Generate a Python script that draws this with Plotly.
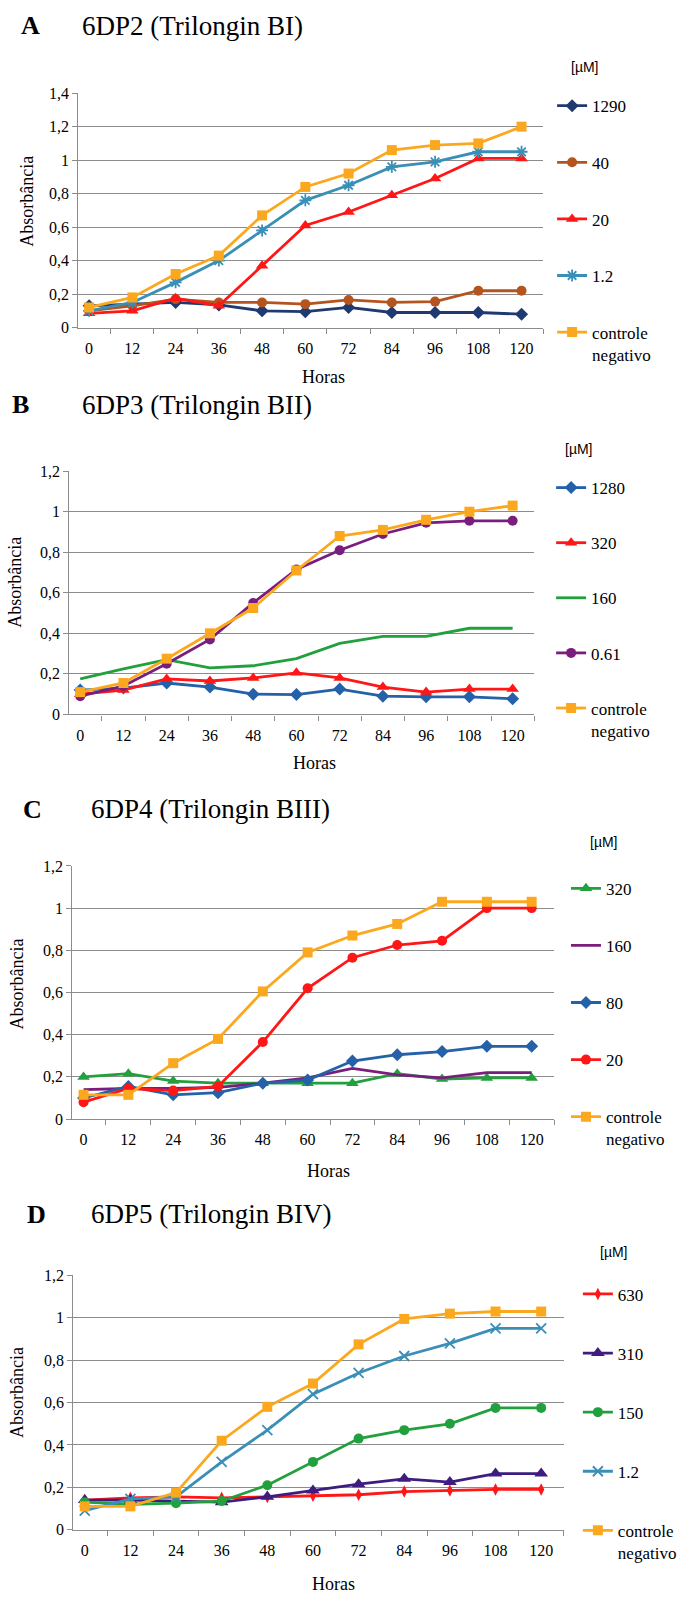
import plotly.graph_objects as go

# ---------------------------------------------------------------- data
hours = [0, 12, 24, 36, 48, 60, 72, 84, 96, 108, 120]
x_tick_labels = ["0", "12", "24", "36", "48", "60", "72", "84", "96", "108", "120"]

y_ticks_14 = [0, 0.2, 0.4, 0.6, 0.8, 1.0, 1.2, 1.4]
y_labels_14 = ["0", "0,2", "0,4", "0,6", "0,8", "1", "1,2", "1,4"]
y_ticks_12 = [0, 0.2, 0.4, 0.6, 0.8, 1.0, 1.2]
y_labels_12 = ["0", "0,2", "0,4", "0,6", "0,8", "1", "1,2"]

# A - 6DP2 (Trilongin BI)
bi_names = ["1290", "40", "20", "1.2", "controle<br>negativo"]
bi_1290 = [0.13, 0.14, 0.15, 0.135, 0.10, 0.095, 0.12, 0.09, 0.09, 0.09, 0.08]
bi_40 = [0.10, 0.13, 0.17, 0.15, 0.15, 0.14, 0.165, 0.15, 0.155, 0.22, 0.22]
bi_20 = [0.085, 0.10, 0.175, 0.13, 0.37, 0.61, 0.69, 0.79, 0.89, 1.01, 1.01]
bi_1p2 = [0.10, 0.15, 0.27, 0.40, 0.58, 0.76, 0.85, 0.96, 0.99, 1.05, 1.05]
bi_ctrl = [0.12, 0.18, 0.32, 0.43, 0.67, 0.84, 0.92, 1.06, 1.09, 1.10, 1.20]

# B - 6DP3 (Trilongin BII)
bii_names = ["1280", "320", "160", "0.61", "controle<br>negativo"]
bii_1280 = [0.12, 0.13, 0.155, 0.135, 0.10, 0.098, 0.125, 0.09, 0.087, 0.087, 0.077]
bii_320 = [0.10, 0.12, 0.175, 0.165, 0.18, 0.205, 0.18, 0.135, 0.11, 0.125, 0.125]
bii_160 = [0.175, 0.225, 0.27, 0.23, 0.24, 0.275, 0.35, 0.385, 0.385, 0.425, 0.425]
bii_0p61 = [0.09, 0.14, 0.25, 0.37, 0.55, 0.715, 0.81, 0.89, 0.945, 0.955, 0.955]
bii_ctrl = [0.11, 0.155, 0.275, 0.40, 0.525, 0.71, 0.88, 0.91, 0.96, 1.00, 1.03]

# C - 6DP4 (Trilongin BIII)
biii_names = ["320", "160", "80", "20", "controle<br>negativo"]
biii_320 = [0.20, 0.215, 0.18, 0.17, 0.17, 0.17, 0.17, 0.215, 0.19, 0.195, 0.195]
biii_160 = [0.14, 0.145, 0.145, 0.15, 0.17, 0.195, 0.24, 0.21, 0.195, 0.22, 0.22]
biii_80 = [0.10, 0.155, 0.115, 0.125, 0.17, 0.185, 0.275, 0.305, 0.32, 0.345, 0.345]
biii_20 = [0.08, 0.145, 0.135, 0.155, 0.365, 0.62, 0.765, 0.825, 0.845, 1.00, 1.00]
biii_ctrl = [0.115, 0.115, 0.265, 0.38, 0.605, 0.79, 0.87, 0.925, 1.03, 1.03, 1.03]

# D - 6DP5 (Trilongin BIV)
biv_names = ["630", "310", "150", "1.2", "controle<br>negativo"]
biv_630 = [0.14, 0.15, 0.155, 0.15, 0.155, 0.16, 0.165, 0.18, 0.185, 0.19, 0.19]
biv_310 = [0.14, 0.14, 0.135, 0.13, 0.155, 0.185, 0.215, 0.24, 0.225, 0.265, 0.265]
biv_150 = [0.13, 0.12, 0.125, 0.135, 0.21, 0.32, 0.43, 0.47, 0.50, 0.575, 0.575]
biv_1p2 = [0.09, 0.145, 0.155, 0.32, 0.47, 0.64, 0.74, 0.82, 0.88, 0.95, 0.95]
biv_ctrl = [0.11, 0.11, 0.175, 0.42, 0.58, 0.69, 0.875, 0.995, 1.02, 1.03, 1.03]

# ---------------------------------------------------------------- styles
W, H = 682, 1602
SERIF = "Liberation Serif, Times New Roman, Times, serif"
SANS = "Liberation Sans, Arial, sans-serif"
GRID = "#8c8c8c"

NAVY = "#1f3a70"
BROWN = "#b4541f"
RED = "#ff1616"
TEAL = "#3a8fb7"
ORANGE = "#fca81e"
BLUE = "#2461a8"
GREEN = "#22a03e"
PURPLE = "#7a1e7e"
INDIGO = "#3e1c80"


def sty(color, symbol=None, size=10, open_=False):
    return dict(color=color, symbol=symbol, size=size, open_=open_)


panels = [
    dict(letter="A", title="6DP2 (Trilongin BI)",
         box=(79, 548, 86, 323), yrange=1.4, yticks=y_ticks_14, ylabels=y_labels_14,
         letter_pos=(31, 18), title_x=81, ytitle=(27, 195), xtitle=(326, 373),
         unit=(590, 60), legend=(557, 81, 31.5),
         series=[(bi_names[0], bi_1290, sty(NAVY, "diamond", 10)),
                 (bi_names[1], bi_40, sty(BROWN, "circle", 10)),
                 (bi_names[2], bi_20, sty(RED, "triangle-up", 11)),
                 (bi_names[3], bi_1p2, sty(TEAL, "asterisk-open", 10, True)),
                 (bi_names[4], bi_ctrl, sty(ORANGE, "square", 10))]),
    dict(letter="B", title="6DP3 (Trilongin BII)",
         box=(70, 539, 468, 714), yrange=1.2, yticks=y_ticks_12, ylabels=y_labels_12,
         letter_pos=(21, 401), title_x=81, ytitle=(15, 580), xtitle=(317, 763),
         unit=(584, 446), legend=(556, 467, 30),
         series=[(bii_names[0], bii_1280, sty(BLUE, "diamond", 10)),
                 (bii_names[1], bii_320, sty(RED, "triangle-up", 11)),
                 (bii_names[2], bii_160, sty(GREEN)),
                 (bii_names[3], bii_0p61, sty(PURPLE, "circle", 10)),
                 (bii_names[4], bii_ctrl, sty(ORANGE, "square", 10))]),
    dict(letter="C", title="6DP4 (Trilongin BIII)",
         box=(73, 559, 867, 1123), yrange=1.2, yticks=y_ticks_12, ylabels=y_labels_12,
         letter_pos=(33, 810), title_x=90, ytitle=(17, 986), xtitle=(331, 1175),
         unit=(609, 843), legend=(571, 872, 32),
         series=[(biii_names[0], biii_320, sty(GREEN, "triangle-up", 11)),
                 (biii_names[1], biii_160, sty(PURPLE)),
                 (biii_names[2], biii_80, sty(BLUE, "diamond", 10)),
                 (biii_names[3], biii_20, sty(RED, "circle", 10)),
                 (biii_names[4], biii_ctrl, sty(ORANGE, "square", 10))]),
    dict(letter="D", title="6DP5 (Trilongin BIV)",
         box=(74, 569, 1281, 1538), yrange=1.2, yticks=y_ticks_12, ylabels=y_labels_12,
         letter_pos=(37, 1219), title_x=90, ytitle=(17, 1399), xtitle=(336, 1593),
         unit=(619, 1257), legend=(583, 1282, 34),
         series=[(biv_names[0], biv_630, sty(RED, "diamond-tall", 9)),
                 (biv_names[1], biv_310, sty(INDIGO, "triangle-up", 12)),
                 (biv_names[2], biv_150, sty(GREEN, "circle", 10)),
                 (biv_names[3], biv_1p2, sty(TEAL, "x-thin-open", 10, True)),
                 (biv_names[4], biv_ctrl, sty(ORANGE, "square", 10))]),
]


def fx(p):
    return p / W


def fy(p):
    return 1 - p / H


fig = go.Figure()
annotations = []
layout = dict(
    width=W, height=H, margin=dict(l=0, r=0, t=0, b=0),
    paper_bgcolor="white", plot_bgcolor="white",
    font=dict(family=SERIF, size=16, color="black"),
    showlegend=True,
)

for i, p in enumerate(panels):
    n = "" if i == 0 else str(i + 1)
    xa, ya = "x" + n, "y" + n
    leg = "legend" + n
    x0, x1, y0, y1 = p["box"]

    layout["xaxis" + n] = dict(
        domain=[fx(x0), fx(x1)], anchor=ya, range=[-3, 126],
        tickmode="array", tickvals=hours, ticktext=x_tick_labels,
        ticks="", showgrid=False, zeroline=False,
        showline=True, linecolor=GRID, linewidth=1.3,
        tickfont=dict(family=SERIF, size=16, color="black"),
        ticklabelstandoff=6,
        minor=dict(tick0=6, dtick=12, ticks="outside", ticklen=5,
                   tickcolor=GRID, tickwidth=1.3, showgrid=False),
        fixedrange=True,
    )
    layout["yaxis" + n] = dict(
        domain=[fy(y1), fy(y0)], anchor=xa, range=[0, p["yrange"] + 0.0005],
        tickmode="array", tickvals=p["yticks"], ticktext=p["ylabels"],
        ticks="outside", ticklen=5, tickcolor=GRID, tickwidth=1.3,
        showgrid=True, gridcolor=GRID, gridwidth=1.3, zeroline=False,
        showline=True, linecolor=GRID, linewidth=1.3,
        tickfont=dict(family=SERIF, size=16, color="black"),
        fixedrange=True,
    )

    lx, ly, gap = p["legend"]
    layout[leg] = dict(
        x=fx(lx), y=fy(ly), xanchor="left", yanchor="top",
        xref="paper", yref="paper",
        font=dict(family=SERIF, size=17, color="black"),
        tracegroupgap=gap, itemwidth=30, valign="top",
        bgcolor="rgba(0,0,0,0)", traceorder="grouped",
    )

    for k, (name, vals, s) in enumerate(p["series"]):
        kw = dict(x=hours, y=vals, name=name, xaxis=xa, yaxis=ya,
                  legend=leg, legendgroup=f"{p['letter']}{k}",
                  line=dict(color=s["color"], width=2.8), cliponaxis=False)
        if s["symbol"] is None:
            kw["mode"] = "lines"
        else:
            kw["mode"] = "lines+markers"
            if s["open_"]:
                kw["marker"] = dict(symbol=s["symbol"], size=s["size"],
                                    color=s["color"],
                                    line=dict(color=s["color"], width=1.8))
            else:
                kw["marker"] = dict(symbol=s["symbol"], size=s["size"],
                                    color=s["color"], line=dict(width=0))
        fig.add_trace(go.Scatter(**kw))

    # panel letter and title
    annotations.append(dict(text=f"<b>{p['letter']}</b>", x=fx(p["letter_pos"][0]),
                            y=fy(p["letter_pos"][1]), xref="paper", yref="paper",
                            xanchor="center", yanchor="middle", showarrow=False,
                            font=dict(family=SERIF, size=26, color="black")))
    annotations.append(dict(text=p["title"], x=fx(p["title_x"]), y=fy(p["letter_pos"][1]),
                            xref="paper", yref="paper", xanchor="left", yanchor="middle",
                            showarrow=False,
                            font=dict(family=SERIF, size=27, color="black")))
    # axis titles
    annotations.append(dict(text="Absorbância", x=fx(p["ytitle"][0]), y=fy(p["ytitle"][1]),
                            xref="paper", yref="paper", xanchor="center", yanchor="middle",
                            textangle=-90, showarrow=False,
                            font=dict(family=SERIF, size=18, color="black")))
    annotations.append(dict(text="Horas", x=fx(p["xtitle"][0]), y=fy(p["xtitle"][1]),
                            xref="paper", yref="paper", xanchor="center", yanchor="middle",
                            showarrow=False,
                            font=dict(family=SERIF, size=18, color="black")))
    # legend heading
    annotations.append(dict(text="[µM]", x=fx(p["unit"][0]), y=fy(p["unit"][1]),
                            xref="paper", yref="paper", xanchor="center", yanchor="middle",
                            showarrow=False,
                            font=dict(family=SANS, size=14, color="black")))

layout["annotations"] = annotations
fig.update_layout(**layout)
fig.write_html("out.html")
